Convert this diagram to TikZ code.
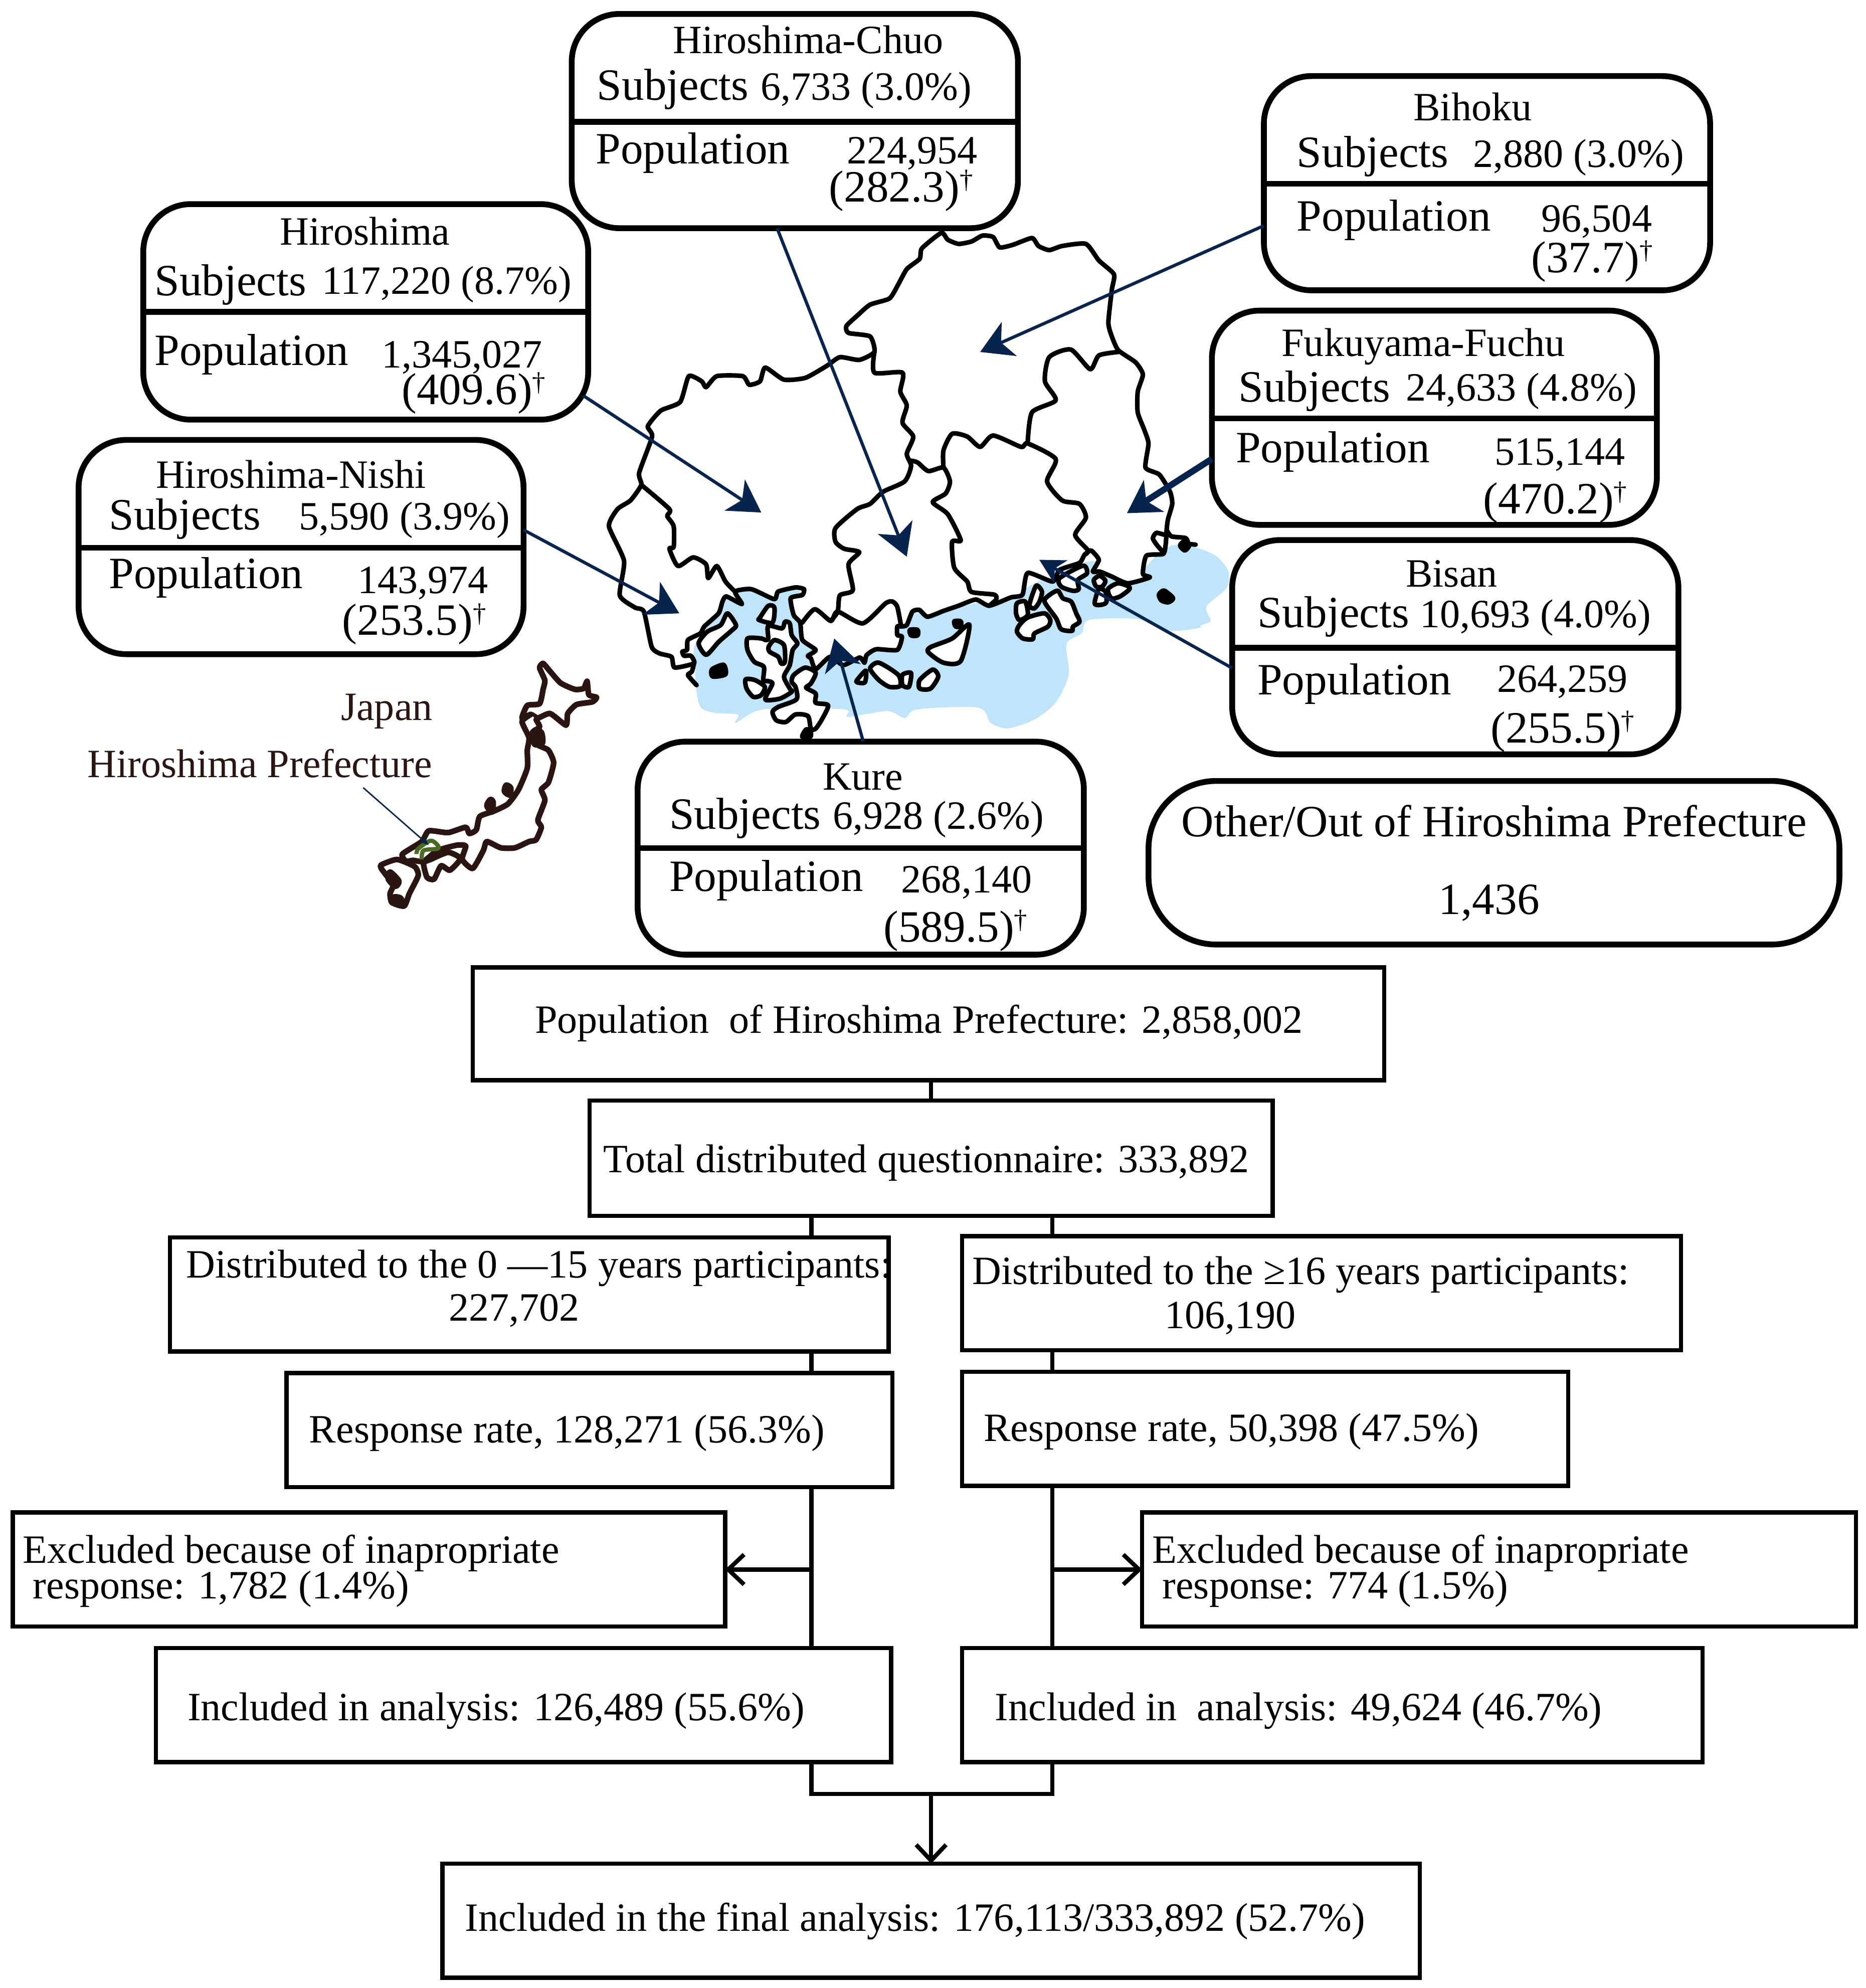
\documentclass[tikz,border=0pt]{standalone}
\usepackage{fontspec}
\setmainfont{Liberation Serif}
\usetikzlibrary{arrows.meta,calc}
\definecolor{navy}{HTML}{07244F}
\definecolor{sea}{HTML}{C0E4F9}
\definecolor{jp}{HTML}{2A1512}
\definecolor{pref}{HTML}{4A6B25}
\tikzset{
  rbox/.style={draw=black,fill=white,line width=3.3pt,rounded corners=0.95cm,inner sep=0pt,outer sep=0pt},
  obox/.style={rbox,rounded corners=1.35cm},
  sbox/.style={draw=black,fill=white,line width=2.4pt,inner sep=0pt,outer sep=0pt},
  divider/.style={line width=3.3pt},
  flow/.style={line width=2.4pt},
  flowarr/.style={flow,-{Straight Barb[length=9pt,width=17pt,line width=2.4pt]}},
  lab/.style={anchor=base west,inner sep=0pt,outer sep=0pt,font=\fontsize{22.8}{24}\selectfont},
  labL/.style={lab,font=\fontsize{25.4}{27}\selectfont},
  jlab/.style={lab,text=jp},
  pt/.style={line width=1.8pt,draw=navy,-{Stealth[length=18pt,width=21pt,inset=5pt,fill=navy]}},
  ptS/.style={line width=1.8pt,draw=navy,-{Stealth[length=14pt,width=15pt,inset=4pt,fill=navy]}},
  ptB/.style={pt,line width=3.6pt},
  mapl/.style={draw=black,line width=2.6pt,line join=round,line cap=round},
  isl/.style={mapl,fill=white},
  jpl/.style={draw=jp,line width=3.2pt,line join=round,line cap=round},
}
\newcommand{\bx}[6]{%
  \pgfmathsetlengthmacro\bw{(#5-#3)*0.25286mm}%
  \pgfmathsetlengthmacro\bh{(#6-#4)*0.25286mm}%
  \node[#2,minimum width=\bw,minimum height=\bh] (#1) at ({(#3+#5)/2},{(#4+#6)/2}) {};}
\newcommand{\isle}[1]{\path[isl] plot[smooth cycle,tension=.45] coordinates {#1};}
\newcommand{\blk}[1]{\path[mapl,fill=black] plot[smooth cycle,tension=.45] coordinates {#1};}
\newcommand{\bord}[1]{\path[mapl] plot[smooth,tension=.4] coordinates {#1};}
\newcommand{\dg}{\raisebox{0.3em}{\fontsize{15}{15}\selectfont †}}
\begin{document}
\begin{tikzpicture}[x=0.25286mm,y=-0.25286mm]
\useasboundingbox (0,0) rectangle (1471.6,1568.1);
\fill[white] (0,0) rectangle (1471.6,1568.1);
% ---------- map of Hiroshima ----------
\begin{scope}[shift={(11.5cm,-4.3cm)},x=0.08611mm,y=-0.06887mm]
\fill[sea] plot[smooth cycle,tension=.5] coordinates {(276,1360)(287,1423)(320,1440)(374,1445)(369,1469)(434,1430)(620,1430)(628,1452)(720,1435)(760,1455)(790,1430)(930,1425)(960,1470)(1000,1485)(1060,1460)(1110,1410)(1140,1330)(1135,1240)(1170,1210)(1188,1171)(1301,1169)(1374,1202)(1440,1195)(1448,1186)(1469,1173)(1459,1132)(1505,1080)(1510,1030)(1480,985)(1430,960)(1380,955)(1340,990)(1290,1040)(1200,1000)(1100,1040)(1000,1100)(800,1150)(600,1150)(500,1080)(370,1085)(340,1110)(275,1240)(275,1310)};
\path[mapl,fill=white] plot[smooth cycle,tension=.35] coordinates {(845,50)(860,70)(885,82)(915,75)(940,58)(965,62)(980,92)(1010,85)(1055,65)(1070,88)(1095,100)(1125,88)(1180,82)(1210,130)(1245,170)(1240,215)(1232,310)(1240,350)(1255,390)(1295,425)(1312,460)(1300,510)(1300,570)(1315,620)(1325,660)(1318,730)(1350,750)(1375,800)(1380,835)(1370,880)(1367,910)(1365,950)(1359,980)(1320,985)(1312,1038)(1328,1048)(1277,1065)(1239,1045)(1212,1031)(1196,1031)(1210,997)(1192,970)(1177,982)(1165,1006)(1119,1026)(1103,1060)(1045,1035)(1033,1098)(1006,1106)(956,1130)(925,1112)(885,1130)(850,1145)(813,1162)(794,1142)(778,1147)(765,1186)(752,1190)(743,1190)(743,1215)(754,1220)(743,1258)(694,1256)(672,1273)(667,1295)(656,1280)(618,1302)(587,1278)(554,1314)(543,1283)(536,1275)(554,1258)(523,1229)(518,1179)(503,1157)(496,1108)(523,1099)(527,1082)(507,1077)(467,1089)(458,1111)(405,1082)(367,1089)(383,1125)(347,1103)(338,1118)(329,1152)(296,1190)(287,1210)(258,1229)(256,1258)(245,1263)(249,1275)(265,1275)(272,1297)(227,1309)(220,1278)(192,1268)(174,1249)(156,1147)(135,1135)(100,1100)(110,1000)(75,900)(95,850)(125,825)(150,780)(145,745)(175,640)(165,610)(195,565)(240,540)(260,465)(290,480)(300,497)(325,465)(385,465)(400,490)(425,480)(437,440)(480,475)(530,470)(580,435)(610,410)(655,418)(690,395)(680,350)(630,340)(625,320)(650,290)(680,258)(725,240)(745,200)(765,155)(795,125)(800,95)};
\bord{(272,1297)(267,1321)(258,1331)(278,1360)}
\bord{(150,780)(215,850)(210,870)(225,900)(225,960)(215,965)(235,1015)(270,990)(300,1010)(305,1050)(325,1015)(345,1060)(367,1089)}
\bord{(690,395)(690,455)(755,455)(750,510)(765,550)(755,600)(780,640)(765,690)(775,725)(760,770)(710,800)(680,835)(650,850)(600,905)(600,945)(620,965)(655,975)(630,1010)(640,1085)(610,1100)(605,1147)(589,1174)}
\bord{(775,710)(790,715)(815,740)(850,730)(865,770)(855,805)(825,830)(860,865)(890,940)(870,945)(875,1020)(905,1060)(915,1090)(968,1098)(972,1112)(956,1130)}
\bord{(850,730)(850,680)(870,632)(905,640)(935,670)(965,637)(1030,670)(1045,660)(1110,705)(1090,770)(1125,825)(1165,835)(1180,875)(1155,925)(1185,970)(1177,982)}
\bord{(1045,660)(1055,570)(1110,535)(1085,480)(1095,410)(1145,388)(1190,445)(1210,405)(1255,395)}
\bord{(523,1179)(552,1140)(589,1174)(605,1147)(663,1181)(716,1123)(732,1118)(743,1133)(752,1190)}
\bord{(1363,925)(1343,919)(1335,935)(1345,955)(1359,975)}
\bord{(1367,910)(1378,929)(1411,934)(1418,950)(1434,953)}
\blk{(772,1200)(790,1200)(790,1216)(775,1216)}
\blk{(875,1175)(890,1175)(890,1190)(878,1190)}
\isle{(650,1345)(670,1318)(668,1352)(650,1352)}
\isle{(680,1312)(700,1295)(745,1330)(750,1362)(725,1365)(700,1345)}
\isle{(755,1330)(775,1325)(770,1365)(755,1360)}
\isle{(795,1345)(825,1315)(838,1335)(820,1370)(795,1370)}
\isle{(820,1250)(870,1225)(910,1185)(890,1290)(850,1295)(815,1265)}
% far-east islets
\blk{(1349,1098)(1361,1086)(1382,1108)(1371,1120)(1355,1115)}
\blk{(1398,956)(1407,944)(1419,956)(1409,970)}
% pointer ends
\coordinate (hcT) at (765,988);
\coordinate (biT) at (935,395);
\coordinate (hiT) at (428,860);
\coordinate (fuT) at (1275,862);
\coordinate (niT) at (238,1152);
\coordinate (bsT) at (1072,997);
\coordinate (kuT) at (597,1225);
\end{scope}
% west bay islands, traced at finer scale
\begin{scope}[shift={(12.5cm,-11cm)},x=0.03827mm,y=-0.03333mm]
\isle{(525,370)(570,440)(550,470)(480,540)(415,618)(375,550)(420,480)(490,440)}
\blk{(445,705)(505,678)(515,735)(448,748)}
\isle{(738,325)(770,335)(760,425)(690,410)(695,395)}
\isle{(630,520)(700,520)(725,530)(738,520)(738,445)(810,460)(825,420)(850,430)(860,500)(890,550)(865,590)(850,680)(820,750)(850,820)(860,840)(800,880)(730,890)(725,870)(760,790)(735,775)(712,770)(715,690)(665,660)(630,590)}
\path[mapl,fill=sea] plot[smooth cycle,tension=.45] coordinates {(740,570)(770,530)(820,560)(825,660)(805,670)(790,630)(745,600)};
\isle{(620,765)(670,770)(720,810)(700,860)(660,870)(625,820)}
\isle{(870,740)(930,695)(985,725)(960,790)(935,815)(985,850)(985,905)(1050,920)(1020,1000)(985,1060)(960,1060)(945,985)(880,975)(830,1020)(780,1010)(760,960)(790,930)(885,885)(880,810)(860,780)}
\blk{(915,1108)(935,1065)(958,1075)(958,1108)}
\end{scope}
% east islands, traced at finer scale
\begin{scope}[shift={(19.5cm,-10.5cm)},x=0.03333mm,y=-0.03333mm]
\isle{(350,355)(385,390)(370,450)(340,490)(310,470)}
\isle{(235,460)(285,450)(300,530)(250,560)(230,520)}
\isle{(250,590)(300,545)(400,520)(435,560)(420,600)(340,640)(330,675)(270,670)(235,630)}
\isle{(430,410)(480,385)(510,430)(560,450)(590,520)(610,570)(570,600)(565,625)(500,615)(470,550)(400,450)}
\isle{(490,310)(630,235)(655,280)(600,320)(605,375)(570,385)(500,360)}
\isle{(695,320)(730,295)(765,325)(745,360)(710,360)}
\isle{(700,460)(725,375)(765,390)(770,455)(730,470)}
\isle{(780,375)(840,340)(905,360)(905,380)(850,420)(800,430)}
\end{scope}
% ---------- map of Japan ----------
\begin{scope}[shift={(1.5cm,-12.82cm)},x=0.07018mm,y=-0.03572mm]
\path[jpl,fill=white] plot[smooth cycle,tension=.35] coordinates {(1330,115)(1350,160)(1380,225)(1420,260)(1445,255)(1455,215)(1460,290)(1482,305)(1470,330)(1425,345)(1400,395)(1395,460)(1350,395)(1315,420)(1295,400)(1270,420)(1285,350)(1320,340)(1330,260)(1335,210)(1320,140)};
\path[jpl,fill=white] plot[smooth,tension=.35] coordinates {(1310,430)(1320,470)(1300,500)(1320,530)(1315,570)(1345,600)(1360,670)(1345,780)(1325,820)(1335,880)(1315,990)(1325,1030)(1310,1100)(1290,1110)(1250,1145)(1210,1145)(1170,1110)(1160,1160)(1130,1260)(1100,1210)(1110,1135)(1085,1130)(1030,1160)(990,1220)(960,1215)(940,1220)(930,1180)(985,1110)(1005,1050)(1060,1060)(1110,1030)(1120,1065)(1140,1045)(1150,970)(1190,940)(1230,900)(1260,820)(1285,700)(1285,600)(1290,530)(1270,440)(1295,400)};
\path[jpl,fill=jp] plot[smooth cycle] coordinates {(1225,795)(1220,830)(1235,850)(1238,810)};
\path[jpl,fill=jp] plot[smooth cycle] coordinates {(1180,875)(1170,910)(1185,945)(1188,890)};
\path[jpl,fill=jp] plot[smooth cycle] coordinates {(1305,490)(1325,500)(1328,560)(1305,565)};
\path[jpl,fill=white] plot[smooth cycle,tension=.35] coordinates {(990,1230)(1000,1310)(1020,1320)(1040,1245)(1065,1270)(1095,1205)(1060,1170)(1010,1210)};
\path[jpl,fill=white] plot[smooth cycle,tension=.35] coordinates {(870,1240)(915,1210)(965,1250)(975,1300)(950,1400)(935,1470)(900,1450)(895,1400)(905,1350)(885,1300)(870,1260)};
\path[jpl,fill=jp] plot[smooth cycle] coordinates {(895,1280)(920,1330)(910,1360)(890,1320)};
\path[jpl,fill=jp] plot[smooth cycle] coordinates {(905,1420)(925,1425)(930,1460)(905,1450)};
\path[draw=pref,line width=2.4pt,line join=round] plot[smooth,tension=.5] coordinates {(970,1180)(975,1150)(1010,1105)(1030,1130)(1030,1150)(990,1160)(985,1210)};
\coordinate (jpT) at (1005,1130);
\end{scope}
% ---------- district boxes ----------
\bx{hc}{rbox}{451}{11}{803}{180}
\bx{bi}{rbox}{997}{60}{1349}{229}
\bx{hi}{rbox}{113}{161}{464}{331}
\bx{fu}{rbox}{956}{245}{1307}{414}
\bx{ni}{rbox}{62}{347}{413}{516}
\bx{bs}{rbox}{972}{426}{1324}{595}
\bx{ku}{rbox}{503}{585}{855}{753}
\bx{ot}{obox}{906}{616}{1451}{745}
\draw[divider] (hc.west |- 0,96) -- (hc.east |- 0,96);
\draw[divider] (bi.west |- 0,145) -- (bi.east |- 0,145);
\draw[divider] (hi.west |- 0,246) -- (hi.east |- 0,246);
\draw[divider] (fu.west |- 0,330) -- (fu.east |- 0,330);
\draw[divider] (ni.west |- 0,432) -- (ni.east |- 0,432);
\draw[divider] (bs.west |- 0,511) -- (bs.east |- 0,511);
\draw[divider] (ku.west |- 0,669) -- (ku.east |- 0,669);
% pointers
\draw[pt] (hc.south -| 613,0) -- (hcT);
\draw[pt] (bi.west |- 0,178) -- (biT);
\draw[pt] (hi.east |- 0,312) ++(-4,0) -- (hiT);
\draw[ptB] (fu.west |- 0,362) -- (fuT);
\draw[pt] (ni.east |- 0,418) -- (niT);
\draw[ptS] (bs.west |- 0,527) -- (bsT);
\draw[pt] (ku.north -| 681,0) -- (kuT);
% district texts
\node[lab] (t1) at (531,42) {Hiroshima-Chuo};
\node[labL] (t2) at (471,79) {Subjects};
\node[lab] (t3) at (600,79) {6,733 (3.0\%)};
\node[labL] (t4) at (470,129) {Population};
\node[lab] (t5) at (668,129) {224,954};
\node[labL] (t6) at (654,159) {(282.3)\dg};
\node[lab] (b1) at (1115,95) {Bihoku};
\node[labL] (b2) at (1023,132) {Subjects};
\node[lab] (b3) at (1162,132) {2,880 (3.0\%)};
\node[labL] (b4) at (1023,182) {Population};
\node[lab] (b5) at (1216,183) {96,504};
\node[labL] (b6) at (1208,215) {(37.7)\dg};
\node[lab] (h1) at (221,193) {Hiroshima};
\node[labL] (h2) at (122,233) {Subjects};
\node[lab] (h3) at (254,232) {117,220 (8.7\%)};
\node[labL] (h4) at (122,288) {Population};
\node[lab] (h5) at (301,290) {1,345,027};
\node[labL] (h6) at (317,319) {(409.6)\dg};
\node[lab] (f1) at (1011,281) {Fukuyama-Fuchu};
\node[labL] (f2) at (977,317) {Subjects};
\node[lab] (f3) at (1109,316) {24,633 (4.8\%)};
\node[labL] (f4) at (975,365) {Population};
\node[lab] (f5) at (1179,367) {515,144};
\node[labL] (f6) at (1170,405) {(470.2)\dg};
\node[lab] (n1) at (123,385) {Hiroshima-Nishi};
\node[labL] (n2) at (86,418) {Subjects};
\node[lab] (n3) at (236,418) {5,590 (3.9\%)};
\node[labL] (n4) at (86,464) {Population};
\node[lab] (n5) at (282,468) {143,974};
\node[labL] (n6) at (270,501) {(253.5)\dg};
\node[lab] (s1) at (1109,463) {Bisan};
\node[labL] (s2) at (992,495) {Subjects};
\node[lab] (s3) at (1120,495) {10,693 (4.0\%)};
\node[labL] (s4) at (992,548) {Population};
\node[lab] (s5) at (1181,546) {264,259};
\node[labL] (s6) at (1176,586) {(255.5)\dg};
\node[lab] (k1) at (649,623) {Kure};
\node[labL] (k2) at (528,654) {Subjects};
\node[lab] (k3) at (657,654) {6,928 (2.6\%)};
\node[labL] (k4) at (528,703) {Population};
\node[lab] (k5) at (711,704) {268,140};
\node[labL] (k6) at (697,743) {(589.5)\dg};
\node[labL] (o1) at (932,660) {Other/Out of Hiroshima Prefecture};
\node[labL] (o2) at (1135,721) {1,436};
\node[jlab] (jp1) at (269,568) {Japan};
\node[jlab] (jp2) at (69,613) {Hiroshima Prefecture};
\draw[navy,line width=0.8pt,-{Stealth[length=5pt,width=4pt]}] ($(jp2.south east)!0.2!(jp2.south west)+(0,8)$) -- (jpT);
% ---------- flow chart ----------
\bx{pop}{sbox}{373}{763}{1092}{852}
\bx{tot}{sbox}{465}{868}{1004}{959}
\bx{da}{sbox}{134}{976}{701}{1066}
\bx{db}{sbox}{759}{975}{1326}{1065}
\bx{ra}{sbox}{226}{1083}{704}{1173}
\bx{rb}{sbox}{759}{1082}{1237}{1172}
\bx{ea}{sbox}{10}{1193}{572}{1283}
\bx{eb}{sbox}{901}{1193}{1464}{1283}
\bx{ia}{sbox}{123}{1300}{703}{1390}
\bx{ib}{sbox}{759}{1300}{1343}{1390}
\bx{fin}{sbox}{349}{1470}{1120}{1560}
\coordinate (L) at (640,1415);
\coordinate (R) at (830,1415);
\draw[flow] (pop.south -| tot.north) -- (tot.north);
\draw[flow] (tot.south -| L) -- (da.north -| L);
\draw[flow] (tot.south -| R) -- (db.north -| R);
\draw[flow] (da.south -| L) -- (ra.north -| L);
\draw[flow] (db.south -| R) -- (rb.north -| R);
\draw[flow] (ra.south -| L) -- (ia.north -| L);
\draw[flow] (rb.south -| R) -- (ib.north -| R);
\draw[flowarr] (ea.east -| L) -- (ea.east);
\draw[flowarr] (eb.west -| R) -- (eb.west);
\draw[flow] (ia.south -| L) -- (L) -- (R) -- (ib.south -| R);
\draw[flowarr] (fin.north |- L) -- (fin.north);
\node[lab] (x1) at (422,815) {Population\ \ of Hiroshima Prefecture: 2,858,002};
\node[lab] (x2) at (476,925) {Total distributed questionnaire: 333,892};
\node[lab] (x3) at (147,1008) {Distributed to the 0 —15 years participants:};
\node[lab] (x4) at (354,1042) {227,702};
\node[lab] (x5) at (767,1013) {Distributed to the ≥16 years participants:};
\node[lab] (x6) at (919,1048) {106,190};
\node[lab] (x7) at (244,1138) {Response rate, 128,271 (56.3\%)};
\node[lab] (x8) at (776,1137) {Response rate, 50,398 (47.5\%)};
\node[lab] (x9) at (18,1233) {Excluded because of inapropriate};
\node[lab] (x10) at (26,1261) {response: 1,782 (1.4\%)};
\node[lab] (x11) at (909,1233) {Excluded because of inapropriate};
\node[lab] (x12) at (917,1261) {response: 774 (1.5\%)};
\node[lab] (x13) at (148,1357) {Included in analysis: 126,489 (55.6\%)};
\node[lab] (x14) at (785,1357) {Included in\ \ analysis: 49,624 (46.7\%)};
\node[lab] (x15) at (367,1523) {Included in the final analysis: 176,113/333,892 (52.7\%)};
\end{tikzpicture}
\end{document}
